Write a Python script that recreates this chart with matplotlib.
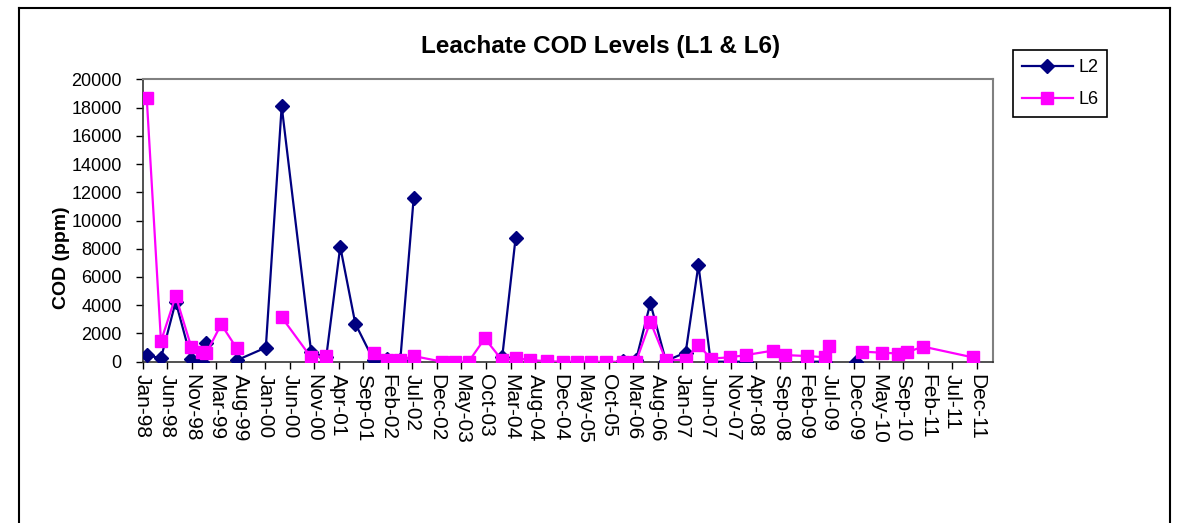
import numpy as np
import matplotlib
matplotlib.use("Agg")
import matplotlib.pyplot as plt
import matplotlib.dates as mdates
from matplotlib.lines import Line2D
from datetime import datetime, timedelta

nan = np.nan

sample_dates = [
    "1998-01-31", "1998-04-28", "1998-07-27", "1998-10-30", "1999-01-02", "1999-01-30",
    "1999-05-01", "1999-08-04", "2000-01-29", "2000-05-05", "2000-11-01", "2001-02-01",
    "2001-04-28", "2001-07-29", "2001-11-18", "2002-02-10", "2002-04-30", "2002-07-21",
    "2003-01-11", "2003-04-02", "2003-06-22", "2003-09-29", "2004-01-13", "2004-04-04",
    "2004-07-04", "2004-10-15", "2005-01-16", "2005-04-16", "2005-07-07", "2005-10-07",
    "2006-01-19", "2006-04-10", "2006-07-07", "2006-10-10", "2007-02-08", "2007-04-27",
    "2007-07-11", "2007-11-05", "2008-02-11", "2008-07-23", "2008-10-06", "2009-02-21",
    "2009-06-11", "2009-07-05", "2009-12-15", "2010-01-24", "2010-05-22", "2010-09-01",
    "2010-10-22", "2011-01-29", "2011-12-02",
]

l2_cod = [
    450, 250, 4250, 170, 0, 1300,
    nan, 100, 1000, 18100, 700, 300,
    8150, 2700, 100, 200, 100, 11600,
    nan, nan, nan, nan, 300, 8750,
    nan, nan, nan, nan, nan, nan,
    50, 100, 4150, 50, 650, 6850,
    0, 0, 0, nan, nan, 0,
    0, nan, 0, nan, nan, nan,
    nan, nan, nan,
]

l6_cod = [
    18650, 1450, 4650, 1050, 700, 600,
    2650, 950, nan, 3150, 300, 400,
    nan, nan, 650, 120, 120, 400,
    0, 0, 0, 1650, 100, 250,
    120, 30, 0, 0, 0, 0,
    0, 0, 2830, 120, 120, 1200,
    220, 310, 470, 780, 470, 400,
    310, 1080, nan, 710, 640, 580,
    660, 1070, 300,
]

series_names = ["L2", "L6"]
title_text = "Leachate COD Levels (L1 & L6)"
y_label = "COD (ppm)"
y_ticks = list(range(0, 20001, 2000))

# Excel-serial based date axis: 35800 .. 41000, major unit 150 days
x_min_serial, x_max_serial, x_step = 35800, 41000, 150

excel_epoch = datetime(1899, 12, 30)
def serial_to_date(s):
    return excel_epoch + timedelta(days=s)

dates = [datetime.strptime(d, "%Y-%m-%d") for d in sample_dates]
l2 = np.array(l2_cod, dtype=float)
l6 = np.array(l6_cod, dtype=float)

plt.rcParams['font.family'] = ['Liberation Sans', 'DejaVu Sans']

W, H = 1183, 523
fig = plt.figure(figsize=(W / 100, H / 100), dpi=100)
fig.patch.set_facecolor("white")

left, right, top, bottom = 142.5, 993, 79.3, 361.7
ax = fig.add_axes([left / W, 1 - bottom / H, (right - left) / W, (bottom - top) / H])

navy = "#000080"
magenta = "#FF00FF"

ax.plot(dates, l2, color=navy, lw=1.6, marker="D", ms=6.8, mfc=navy, mec=navy,
        label=series_names[0], zorder=3)
ax.plot(dates, l6, color=magenta, lw=1.6, marker="s", ms=9, mfc=magenta, mec=magenta,
        label=series_names[1], zorder=4)

ax.set_xlim(serial_to_date(x_min_serial), serial_to_date(x_max_serial))
ax.set_ylim(0, 20000)
ax.set_yticks(y_ticks)
ax.set_yticklabels([str(v) for v in y_ticks], fontsize=13)

xt = [serial_to_date(s) for s in range(x_min_serial, x_max_serial, x_step)]
ax.set_xticks(xt)
ax.xaxis.set_major_formatter(mdates.DateFormatter("%b-%y"))
for lab in ax.get_xticklabels():
    lab.set_rotation(-90)
    lab.set_fontsize(15)
    lab.set_va("top")
    lab.set_ha("center")

ax.tick_params(axis="x", direction="out", length=5, width=1, pad=4, colors="black")
ax.tick_params(axis="y", direction="out", length=5, width=1, pad=10, colors="black")
ax.yaxis.set_minor_locator(plt.NullLocator())
ax.xaxis.set_minor_locator(plt.NullLocator())

for s in ["top", "right"]:
    ax.spines[s].set_color("#808080")
    ax.spines[s].set_linewidth(1.5)
for s in ["left", "bottom"]:
    ax.spines[s].set_color("#333333")
    ax.spines[s].set_linewidth(1.2)

fig.text(601 / W, 1 - 46 / H, title_text, ha="center", va="center",
         fontsize=17.5, fontweight="bold")
fig.text(62 / W, 1 - 258 / H, y_label, ha="center", va="center", rotation=90,
         fontsize=14, fontweight="bold")

leg = ax.legend(loc="upper left", bbox_to_anchor=(1013 / W, 1 - 50 / H),
                bbox_transform=fig.transFigure, fontsize=13, frameon=True,
                fancybox=False, edgecolor="black", framealpha=1,
                handlelength=2.8, handletextpad=0.3, labelspacing=0.85,
                borderpad=0.5, borderaxespad=0)
leg.get_frame().set_linewidth(1.2)

# outer chart frame
fig.add_artist(Line2D([19 / W, 19 / W], [0, 1 - 8 / H], transform=fig.transFigure,
                      color="black", lw=1.5))
fig.add_artist(Line2D([19 / W, 1170 / W], [1 - 8 / H, 1 - 8 / H], transform=fig.transFigure,
                      color="black", lw=1.5))
fig.add_artist(Line2D([1170 / W, 1170 / W], [0, 1 - 8 / H], transform=fig.transFigure,
                      color="black", lw=1.5))

fig.savefig("out.png", dpi=100, facecolor="white")
